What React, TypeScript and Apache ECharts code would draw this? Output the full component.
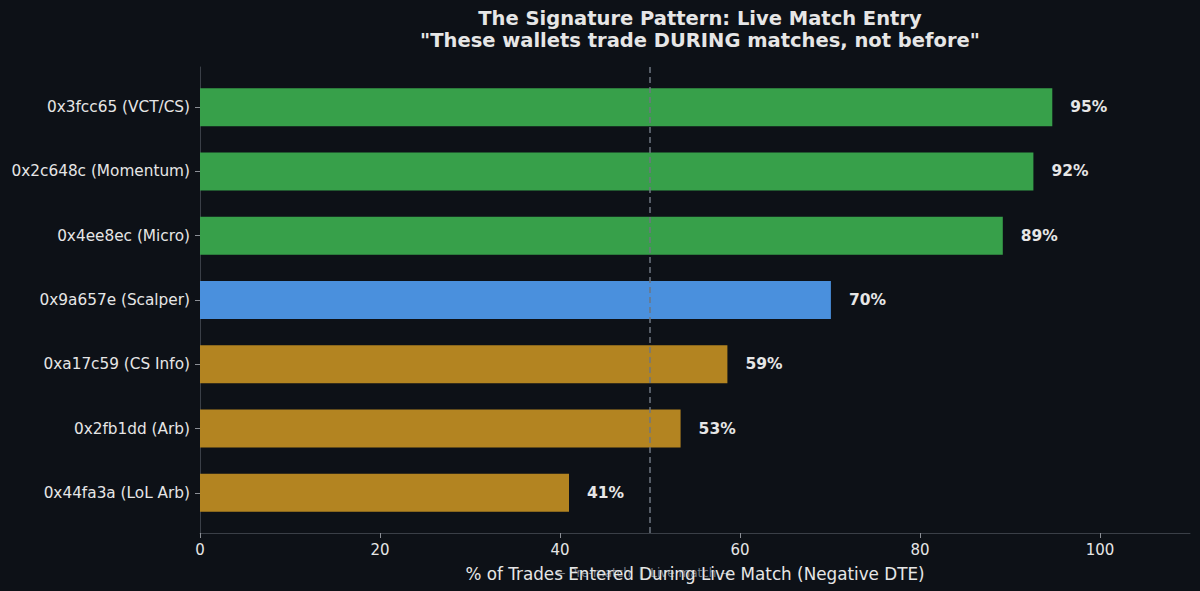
import React, { useEffect, useRef } from "react";
import * as echarts from "echarts";

const categories = [
  "0x3fcc65 (VCT/CS)",
  "0x2c648c (Momentum)",
  "0x4ee8ec (Micro)",
  "0x9a657e (Scalper)",
  "0xa17c59 (CS Info)",
  "0x2fb1dd (Arb)",
  "0x44fa3a (LoL Arb)",
];
const values = [94.7, 92.6, 89.2, 70.1, 58.6, 53.4, 41.0];
const valueLabels = ["95%", "92%", "89%", "70%", "59%", "53%", "41%"];
const barColors = ["#37a04a", "#37a04a", "#37a04a", "#4a90dd", "#b38421", "#b38421", "#b38421"];
const xTicks = [0, 20, 40, 60, 80, 100];
const threshold = 50;

const FONT = "DejaVu Sans";

export default function App() {
  const ref = useRef<HTMLDivElement>(null);
  useEffect(() => {
    if (!ref.current) return;
    const chart = echarts.init(ref.current, null, { renderer: "svg" });
    const axisColor = "#3a3f47";
    const textColor = "#e6e6e6";
    chart.setOption({
      animation: false,
      backgroundColor: "#0d1117",
      title: {
        text: 'The Signature Pattern: Live Match Entry\n"These wallets trade DURING matches, not before"',
        left: 695,
        textAlign: "center",
        top: 2,
        textStyle: {
          color: textColor,
          fontFamily: FONT,
          fontWeight: "bold",
          fontSize: 19.5,
          lineHeight: 22.5,
        },
      },
      grid: [
        { left: 200, right: 10, top: 75, height: 450 },
        { left: 200, right: 10, top: 67, bottom: 58 },
      ],
      xAxis: [
        { gridIndex: 0, type: "value", min: 0, max: 110, show: false },
        {
          gridIndex: 1,
          type: "value",
          min: 0,
          max: 110,
          axisLine: { show: true, lineStyle: { color: axisColor, width: 1 } },
          axisTick: { show: true, length: 5, customValues: xTicks, lineStyle: { color: "#8b8f96" } },
          splitLine: { show: false },
          axisLabel: {
            color: textColor,
            fontFamily: FONT,
            fontSize: 15,
            margin: 9,
            customValues: xTicks,
          },
          name: "% of Trades Entered During Live Match (Negative DTE)",
          nameLocation: "middle",
          nameGap: 32,
          nameTextStyle: { color: textColor, fontFamily: FONT, fontSize: 16.8 },
        },
      ],
      yAxis: [
        {
          gridIndex: 0,
          type: "category",
          data: categories,
          inverse: true,
          axisLine: { show: false },
          axisTick: { show: true, length: 5, alignWithLabel: true, lineStyle: { color: "#8b8f96" } },
          axisLabel: { color: textColor, fontFamily: FONT, fontSize: 15.3, margin: 10 },
        },
        {
          gridIndex: 1,
          type: "value",
          min: 0,
          max: 1,
          axisLine: { show: true, lineStyle: { color: axisColor, width: 1 } },
          axisTick: { show: false },
          axisLabel: { show: false },
          splitLine: { show: false },
        },
      ],
      graphic: [
        {
          type: "text",
          x: 643,
          y: 573,
          style: {
            text: "← Pre-match  |  Live match →",
            fill: "#8b949e",
            font: `12px ${FONT}`,
            align: "center",
            verticalAlign: "middle",
            opacity: 0.85,
          },
        },
      ],
      series: [
        {
          type: "bar",
          xAxisIndex: 0,
          yAxisIndex: 0,
          barWidth: 38,
          data: values.map((v, i) => ({ value: v, itemStyle: { color: barColors[i] } })),
          label: {
            show: true,
            position: "right",
            distance: 18,
            color: textColor,
            fontFamily: FONT,
            fontWeight: "bold",
            fontSize: 15.5,
            formatter: (p: any) => valueLabels[p.dataIndex],
          },
        },
        {
          type: "line",
          xAxisIndex: 1,
          yAxisIndex: 1,
          data: [],
          markLine: {
            silent: true,
            symbol: "none",
            label: { show: false },
            lineStyle: { color: "#6e7681", type: [6, 4], width: 1.5 },
            data: [{ xAxis: threshold }],
          },
        },
      ],
    });
    return () => chart.dispose();
  }, []);
  return <div ref={ref} style={{ width: 1200, height: 591, position: "absolute", left: 0, top: 0 }} />;
}
